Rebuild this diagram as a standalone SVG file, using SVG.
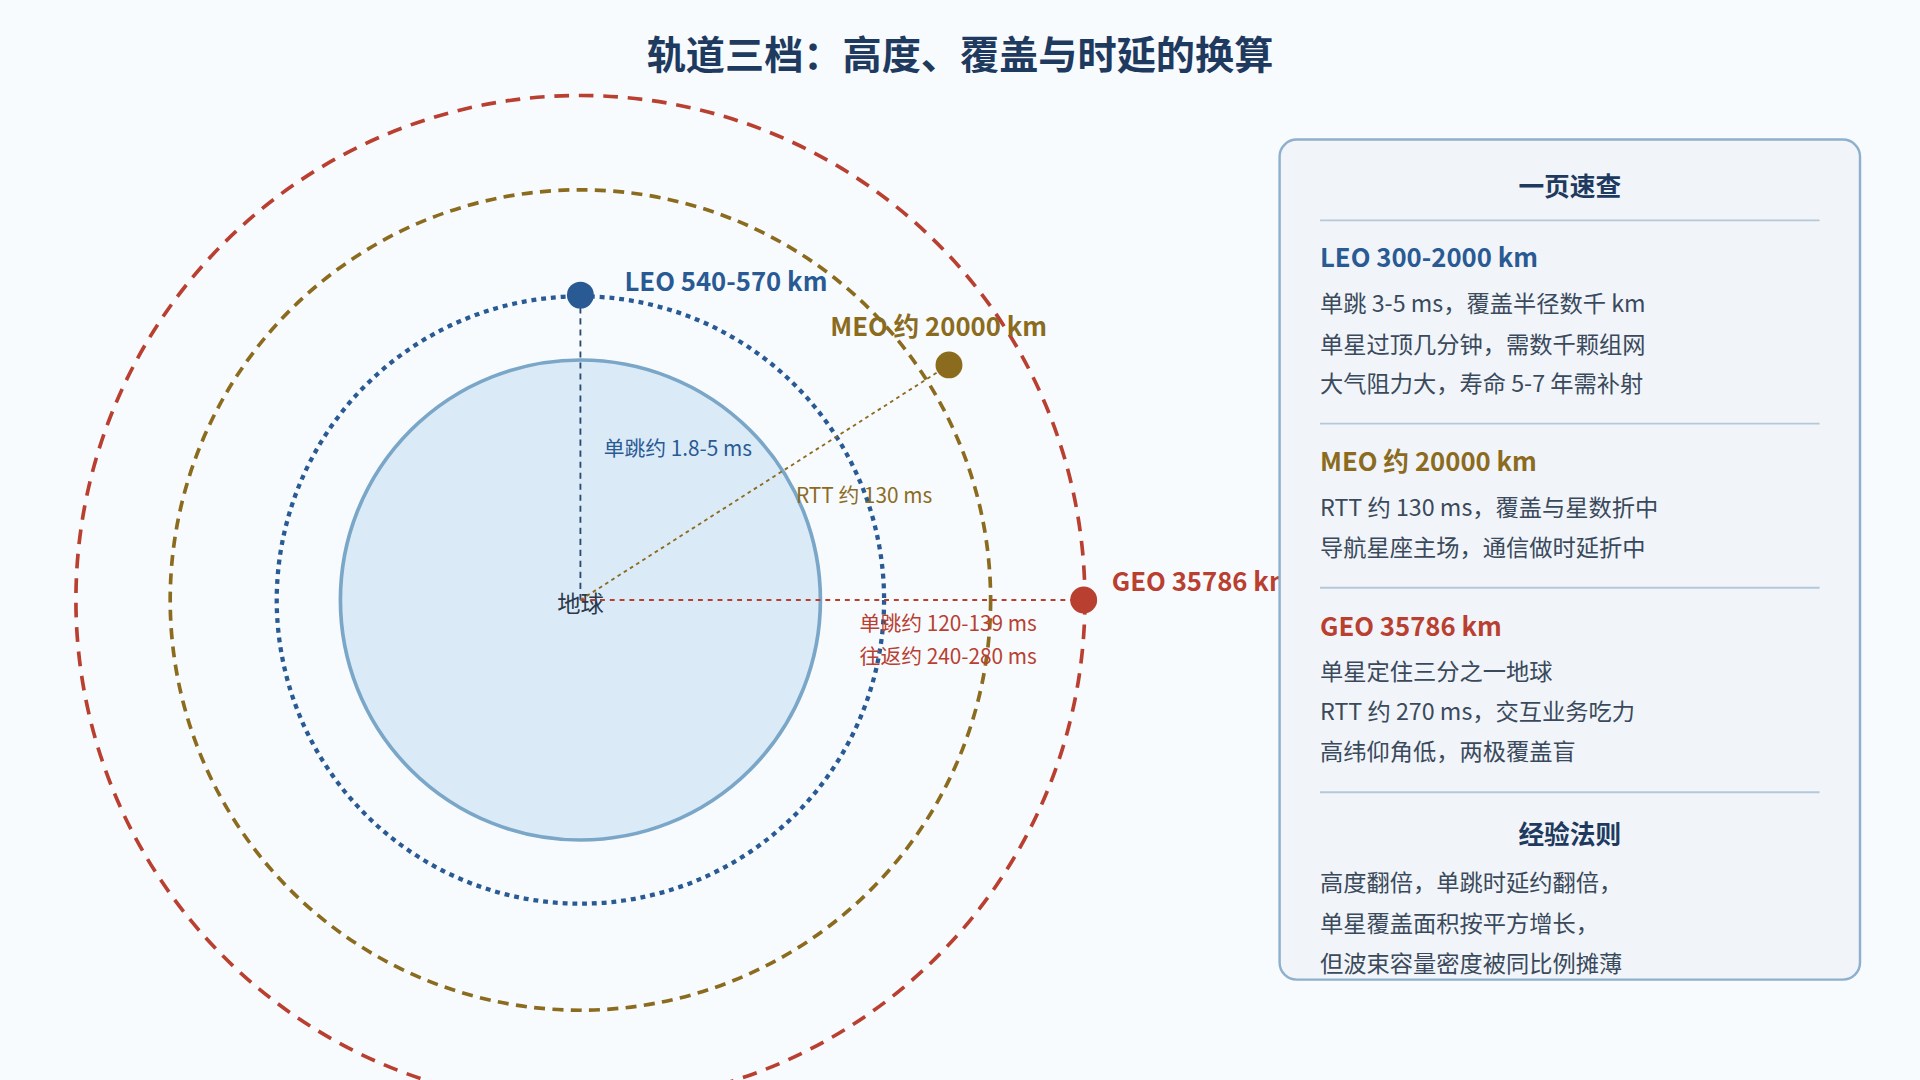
<svg xmlns="http://www.w3.org/2000/svg" width="1920" height="1080" viewBox="0 0 1920 1080">
<style>
text{font-family:"Noto Sans CJK SC","Noto Sans",sans-serif}
.b{font-weight:bold}
.p{font-size:19px;fill:#3a4a5c}
.h{font-size:21px;font-weight:bold}
</style>
<rect width="1920" height="1080" fill="#f8fbfe"/>
<g transform="scale(1.2245)">
<text x="784" y="56" text-anchor="middle" class="b" font-size="32" fill="#1f3a5f">轨道三档：高度、覆盖与时延的换算</text>
<g id="orbits" fill="none">
<circle cx="474" cy="490" r="412" stroke="#b94030" stroke-width="3" stroke-dasharray="12,8"/>
<circle cx="474" cy="490" r="335" stroke="#8b6b1e" stroke-width="3" stroke-dasharray="9,6"/>
</g>
<g id="earth">
<circle cx="474" cy="490" r="196" fill="#dbeaf7" stroke="#7aa6c8" stroke-width="3"/>
<text x="474" y="500" text-anchor="middle" font-size="19" fill="#2a3a4c">地球</text>
</g>
<circle cx="474" cy="490" r="248" fill="none" stroke="#2a5a94" stroke-width="3.5" stroke-dasharray="4,4"/>
<g id="connectors">
<line x1="474" y1="490" x2="474" y2="241" stroke="#2a4a70" stroke-width="1.5" stroke-dasharray="5,4"/>
<line x1="474" y1="490" x2="775" y2="298" stroke="#8b6b1e" stroke-width="1.5" stroke-dasharray="3,3"/>
<line x1="474" y1="490" x2="885" y2="490" stroke="#b94030" stroke-width="1.5" stroke-dasharray="4,4"/>
<text x="493" y="372" font-size="17" fill="#2a5a94">单跳约 1.8-5 ms</text>
<text x="650" y="411" font-size="17" fill="#8b6b1e">RTT 约 130 ms</text>
<text x="702" y="515" font-size="17" fill="#b94030">单跳约 120-139 ms</text>
<text x="702" y="542" font-size="17" fill="#b94030">往返约 240-280 ms</text>
</g>
<g id="leo"><circle cx="474" cy="241" r="11" fill="#2a5a94"/><text x="510" y="238" class="h" fill="#2a5a94">LEO 540-570 km</text></g>
<g id="meo"><circle cx="775" cy="298" r="11" fill="#8b6b1e"/><text x="678" y="274" class="h" fill="#8b6b1e">MEO 约 20000 km</text></g>
<g id="geo"><circle cx="885" cy="490" r="11" fill="#b94030"/><text x="908" y="483" class="h" fill="#b94030">GEO 35786 km</text></g>
<g id="panel">
<rect x="1045" y="114" width="474" height="686" rx="14" fill="#f1f5f9" stroke="#8fb0cc" stroke-width="2"/>
<text x="1282" y="160" text-anchor="middle" class="h" fill="#1f3a5f">一页速查</text>
<line x1="1078" y1="180" x2="1486" y2="180" stroke="#b5c8da" stroke-width="1.5"/>
<text x="1078" y="218" class="h" fill="#2a5a94">LEO 300-2000 km</text>
<text x="1078" y="255" class="p">单跳 3-5 ms，覆盖半径数千 km</text>
<text x="1078" y="288" class="p">单星过顶几分钟，需数千颗组网</text>
<text x="1078" y="320" class="p">大气阻力大，寿命 5-7 年需补射</text>
<line x1="1078" y1="346" x2="1486" y2="346" stroke="#b5c8da" stroke-width="1.5"/>
<text x="1078" y="385" class="h" fill="#8b6b1e">MEO 约 20000 km</text>
<text x="1078" y="421" class="p">RTT 约 130 ms，覆盖与星数折中</text>
<text x="1078" y="454" class="p">导航星座主场，通信做时延折中</text>
<line x1="1078" y1="480" x2="1486" y2="480" stroke="#b5c8da" stroke-width="1.5"/>
<text x="1078" y="519" class="h" fill="#b94030">GEO 35786 km</text>
<text x="1078" y="555" class="p">单星定住三分之一地球</text>
<text x="1078" y="588" class="p">RTT 约 270 ms，交互业务吃力</text>
<text x="1078" y="621" class="p">高纬仰角低，两极覆盖盲</text>
<line x1="1078" y1="647" x2="1486" y2="647" stroke="#b5c8da" stroke-width="1.5"/>
<text x="1282" y="689" text-anchor="middle" class="h" fill="#1f3a5f">经验法则</text>
<text x="1078" y="728" class="p">高度翻倍，单跳时延约翻倍，</text>
<text x="1078" y="761" class="p">单星覆盖面积按平方增长，</text>
<text x="1078" y="794" class="p">但波束容量密度被同比例摊薄</text>
</g>
</g>
</svg>
